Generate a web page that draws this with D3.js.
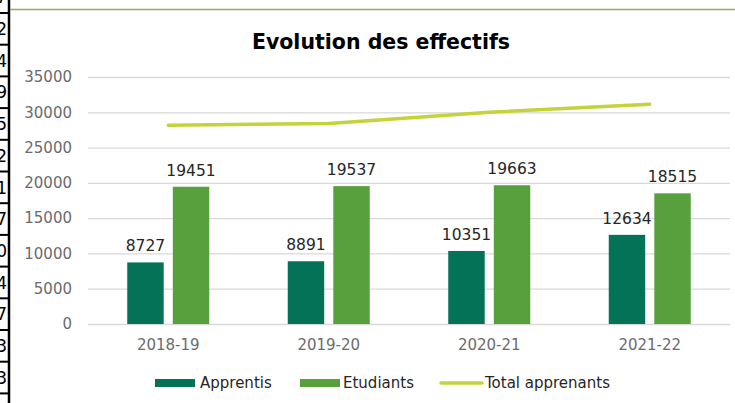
<!DOCTYPE html>
<html>
<head>
<meta charset="utf-8">
<script src="https://cdn.jsdelivr.net/npm/d3@7"></script>
<style>
  body { margin: 0; background: #fff; }
  svg { display: block; font-family: "DejaVu Sans", sans-serif; }
</style>
</head>
<body>
<svg id="chart" width="735" height="403"></svg>
<script>
// Data
const categories = ["2018-19", "2019-20", "2020-21", "2021-22"];
const apprentis = [8727, 8891, 10351, 12634];
const etudiants = [19451, 19537, 19663, 18515];
const totalApprenants = [28178, 28428, 30014, 31149];
const yTicks = [0, 5000, 10000, 15000, 20000, 25000, 30000, 35000];
const seriesNames = ["Apprentis", "Etudiants", "Total apprenants"];
// spreadsheet cells visible at the left edge of the capture
const cellDigits = ["7", "2", "4", "9", "5", "2", "1", "7", "0", "4", "7", "3", "3"];

const colors = ["#037257", "#57A03D", "#C4D33A"];

const svg = d3.select("#chart"),
  margin = {top: 77, left: 88, bottom: 79, right: 5},
  width = +svg.attr("width"),
  height = +svg.attr("height");

// spreadsheet leftovers
const cells = svg.append("g").attr("class", "cells");
cells.selectAll("text")
  .data(cellDigits)
  .enter().append("text")
    .attr("x", 7)
    .attr("y", (d, i) => 13 + (i - 1) * 31.7 + 16 + 6)
    .attr("text-anchor", "end")
    .attr("font-size", 17)
    .attr("fill", "#000")
    .text(d => d);
cells.selectAll("line")
  .data(d3.range(13))
  .enter().append("line")
    .attr("x1", 0).attr("x2", 9)
    .attr("y1", i => 13 + i * 31.7)
    .attr("y2", i => 13 + i * 31.7)
    .attr("stroke", "#000").attr("stroke-width", 2);
cells.append("line")
  .attr("x1", 9).attr("x2", 9).attr("y1", 0).attr("y2", height)
  .attr("stroke", "#000").attr("stroke-width", 2.5);
svg.append("line")
  .attr("x1", 10).attr("x2", width).attr("y1", 9.5).attr("y2", 9.5)
  .attr("stroke", "#9AA84E").attr("stroke-width", 1.5);

// Title
svg.append("text")
  .attr("x", 381).attr("y", 49)
  .attr("text-anchor", "middle")
  .attr("font-size", 20.5)
  .attr("font-weight", "bold")
  .attr("fill", "#000")
  .text("Evolution des effectifs");

// Scales
const x0 = d3.scaleBand()
  .domain(categories)
  .range([margin.left, width - margin.right]);

const x1 = d3.scaleBand()
  .domain(["Apprentis", "Etudiants"])
  .range([0, 82])
  .paddingInner(0.2);

const y = d3.scaleLinear()
  .domain([0, 35000])
  .range([height - margin.bottom, margin.top]);

// Y axis + gridlines
const yAxis = svg.append("g")
  .attr("transform", `translate(${margin.left},0)`)
  .call(d3.axisLeft(y).tickValues(yTicks).tickFormat(d3.format("d"))
    .tickSize(-(width - margin.left - margin.right)).tickPadding(16));
yAxis.select(".domain").remove();
yAxis.selectAll(".tick line").attr("stroke", "#d9d9d9").attr("stroke-width", 1.3);
yAxis.selectAll(".tick text")
  .attr("font-size", 15)
  .attr("font-family", "DejaVu Sans")
  .attr("fill", "#6b6b6b");

// X axis
const xAxis = svg.append("g")
  .attr("transform", `translate(0,${height - margin.bottom})`)
  .call(d3.axisBottom(x0).tickSize(0).tickPadding(15));
xAxis.select(".domain").remove();
xAxis.selectAll(".tick text")
  .attr("font-size", 15)
  .attr("font-family", "DejaVu Sans")
  .attr("fill", "#6b6b6b");

// Bars
const groups = categories.map((c, i) => ({
  cat: c,
  vals: [{key: "Apprentis", value: apprentis[i]}, {key: "Etudiants", value: etudiants[i]}]
}));

const g = svg.selectAll("g.group")
  .data(groups)
  .enter().append("g")
    .attr("class", "group")
    .attr("transform", d => `translate(${x0(d.cat) + (x0.bandwidth() - 82) / 2},0)`);

g.selectAll("rect")
  .data(d => d.vals)
  .enter().append("rect")
    .attr("x", d => x1(d.key))
    .attr("y", d => y(d.value))
    .attr("width", x1.bandwidth())
    .attr("height", d => y(0) - y(d.value))
    .attr("fill", (d, i) => colors[i]);

g.selectAll("text.lbl")
  .data(d => d.vals)
  .enter().append("text")
    .attr("class", "lbl")
    .attr("x", d => x1(d.key) + x1.bandwidth() / 2)
    .attr("y", d => y(d.value) - 11)
    .attr("text-anchor", "middle")
    .attr("font-size", 15.5)
    .attr("fill", "#262626")
    .text(d => d.value);

// Total line
const line = d3.line()
  .x((d, i) => x0(categories[i]) + x0.bandwidth() / 2)
  .y(d => y(d));

svg.append("path")
  .datum(totalApprenants)
  .attr("d", line)
  .attr("fill", "none")
  .attr("stroke", colors[2])
  .attr("stroke-width", 3.5)
  .attr("stroke-linecap", "round")
  .attr("stroke-linejoin", "round");

// Legend
const legendItems = [
  {name: seriesNames[0], sx: 155, tx: 200, type: "rect"},
  {name: seriesNames[1], sx: 300, tx: 343, type: "rect"},
  {name: seriesNames[2], sx: 440, tx: 485, type: "line"}
];
const legend = svg.append("g").attr("class", "legend");
legendItems.forEach((d, i) => {
  if (d.type === "rect") {
    legend.append("rect")
      .attr("x", d.sx).attr("y", 379)
      .attr("width", 40).attr("height", 8)
      .attr("fill", colors[i]);
  } else {
    legend.append("line")
      .attr("x1", d.sx + 1).attr("x2", d.sx + 42)
      .attr("y1", 383).attr("y2", 383)
      .attr("stroke", colors[i]).attr("stroke-width", 3.5)
      .attr("stroke-linecap", "round");
  }
  legend.append("text")
    .attr("x", d.tx).attr("y", 388)
    .attr("font-size", 15)
    .attr("fill", "#262626")
    .text(d.name);
});
</script>
</body>
</html>
